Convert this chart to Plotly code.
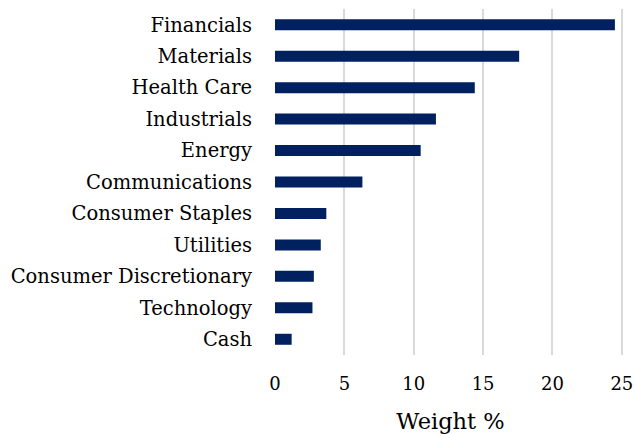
import plotly.graph_objects as go

categories = ["Financials", "Materials", "Health Care", "Industrials", "Energy",
              "Communications", "Consumer Staples", "Utilities",
              "Consumer Discretionary", "Technology", "Cash"]
weights = [24.5, 17.6, 14.4, 11.6, 10.5, 6.3, 3.7, 3.3, 2.8, 2.7, 1.2]
x_ticks = [0, 5, 10, 15, 20, 25]

FONT = "DejaVu Serif"

fig = go.Figure(go.Bar(
    x=weights,
    y=categories,
    orientation="h",
    marker=dict(color="#002060", line=dict(width=0)),
    hoverinfo="skip",
))

fig.update_layout(
    width=635, height=434,
    margin=dict(l=275, r=9, t=9, b=79),
    paper_bgcolor="white",
    plot_bgcolor="white",
    bargap=0.65,
    showlegend=False,
    font=dict(family=FONT, color="black", size=16),
)
fig.update_yaxes(
    autorange="reversed",
    automargin=False,
    showgrid=False,
    showline=False,
    ticks="",
    ticklabelstandoff=22,
    tickfont=dict(family=FONT, size=19.5, color="black"),
)
fig.update_xaxes(
    range=[0, 25.3],
    tickvals=x_ticks,
    automargin=False,
    showgrid=True,
    gridcolor="#d9d9d9",
    gridwidth=2,
    zeroline=False,
    showline=False,
    ticks="",
    ticklabelstandoff=16,
    ticklabeloverflow="allow",
    tickfont=dict(family=FONT, size=18, color="black"),
    title=dict(text="Weight %", font=dict(family=FONT, size=22.5, color="black"), standoff=26),
)

fig.write_html(
    "out.html",
    config={"displayModeBar": False},
    post_script="document.body.style.margin='0';document.body.style.overflow='hidden';",
)
